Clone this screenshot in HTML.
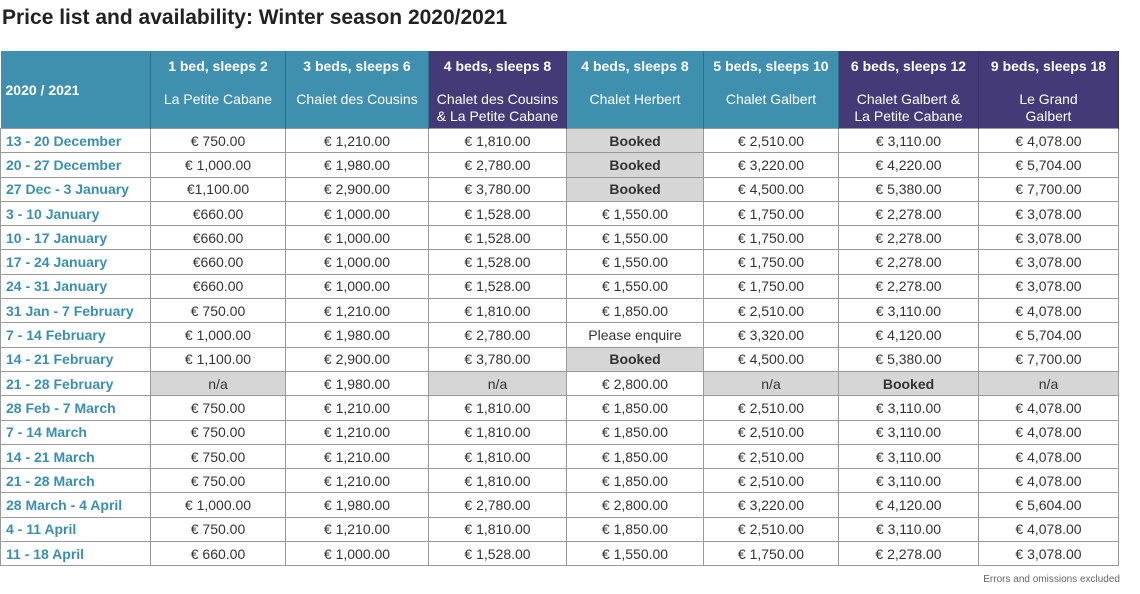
<!DOCTYPE html>
<html><head><meta charset="utf-8"><style>
body{margin:0;width:1140px;height:594px;background:#fff;font-family:"Liberation Sans",sans-serif;position:relative;overflow:hidden}
h1{position:absolute;left:2px;top:6px;margin:0;font-size:21px;font-weight:bold;color:#222}
table{position:absolute;left:0;top:51px;border-collapse:collapse;table-layout:fixed;width:1118px}
th{color:#fff;font-weight:normal;font-size:14px;border-right:1px solid #2f6f88;padding:0;vertical-align:top;height:77px}
th.t{background:#3f8faf}th.p{background:#453a78;border-right-color:#3a3068}
th b{display:block;font-weight:bold;font-size:14px;margin-top:7px;height:33px}
th span{display:block;line-height:17px}
th.first{text-align:left;padding-left:5px;vertical-align:middle;font-weight:bold;font-size:14px}
td{height:23.3px;border:1px solid #9a9a9a;padding:0;text-align:center;font-size:14px;color:#333}
td.d{text-align:left;padding-left:5px;color:#3a8fb0;font-weight:bold}
td.g{background:#d6d6d6}
td.bk{font-weight:bold;background:#d6d6d6}
.note{position:absolute;right:20px;top:574px;font-size:10px;color:#666}
</style></head><body>
<h1>Price list and availability: Winter season 2020/2021</h1>
<table>
<colgroup><col style="width:150px"><col style="width:135px"><col style="width:143px"><col style="width:138px"><col style="width:137px"><col style="width:135px"><col style="width:140px"><col style="width:140px"></colgroup>
<thead><tr>
<th class="t first">2020 / 2021</th>
<th class="t"><b>1 bed, sleeps 2</b><span>La Petite Cabane</span></th>
<th class="t"><b>3 beds, sleeps 6</b><span>Chalet des Cousins</span></th>
<th class="p"><b>4 beds, sleeps 8</b><span>Chalet des Cousins<br>&amp; La Petite Cabane</span></th>
<th class="t"><b>4 beds, sleeps 8</b><span>Chalet Herbert</span></th>
<th class="t"><b>5 beds, sleeps 10</b><span>Chalet Galbert</span></th>
<th class="p"><b>6 beds, sleeps 12</b><span>Chalet Galbert &amp;<br>La Petite Cabane</span></th>
<th class="p"><b>9 beds, sleeps 18</b><span>Le Grand<br>Galbert</span></th>
</tr></thead>
<tbody id="tb"></tbody></table>
<div class="note">Errors and omissions excluded</div>
<script>
const rows=[
["13 - 20 December","€ 750.00","€ 1,210.00","€ 1,810.00","Booked","€ 2,510.00","€ 3,110.00","€ 4,078.00"],
["20 - 27 December","€ 1,000.00","€ 1,980.00","€ 2,780.00","Booked","€ 3,220.00","€ 4,220.00","€ 5,704.00"],
["27 Dec - 3 January","€1,100.00","€ 2,900.00","€ 3,780.00","Booked","€ 4,500.00","€ 5,380.00","€ 7,700.00"],
["3 - 10 January","€660.00","€ 1,000.00","€ 1,528.00","€ 1,550.00","€ 1,750.00","€ 2,278.00","€ 3,078.00"],
["10 - 17 January","€660.00","€ 1,000.00","€ 1,528.00","€ 1,550.00","€ 1,750.00","€ 2,278.00","€ 3,078.00"],
["17 - 24 January","€660.00","€ 1,000.00","€ 1,528.00","€ 1,550.00","€ 1,750.00","€ 2,278.00","€ 3,078.00"],
["24 - 31 January","€660.00","€ 1,000.00","€ 1,528.00","€ 1,550.00","€ 1,750.00","€ 2,278.00","€ 3,078.00"],
["31 Jan - 7 February","€ 750.00","€ 1,210.00","€ 1,810.00","€ 1,850.00","€ 2,510.00","€ 3,110.00","€ 4,078.00"],
["7 - 14 February","€ 1,000.00","€ 1,980.00","€ 2,780.00","Please enquire","€ 3,320.00","€ 4,120.00","€ 5,704.00"],
["14 - 21 February","€ 1,100.00","€ 2,900.00","€ 3,780.00","Booked","€ 4,500.00","€ 5,380.00","€ 7,700.00"],
["21 - 28 February","n/a","€ 1,980.00","n/a","€ 2,800.00","n/a","Booked","n/a"],
["28 Feb - 7 March","€ 750.00","€ 1,210.00","€ 1,810.00","€ 1,850.00","€ 2,510.00","€ 3,110.00","€ 4,078.00"],
["7 - 14 March","€ 750.00","€ 1,210.00","€ 1,810.00","€ 1,850.00","€ 2,510.00","€ 3,110.00","€ 4,078.00"],
["14 - 21 March","€ 750.00","€ 1,210.00","€ 1,810.00","€ 1,850.00","€ 2,510.00","€ 3,110.00","€ 4,078.00"],
["21 - 28 March","€ 750.00","€ 1,210.00","€ 1,810.00","€ 1,850.00","€ 2,510.00","€ 3,110.00","€ 4,078.00"],
["28 March - 4 April","€ 1,000.00","€ 1,980.00","€ 2,780.00","€ 2,800.00","€ 3,220.00","€ 4,120.00","€ 5,604.00"],
["4 - 11 April","€ 750.00","€ 1,210.00","€ 1,810.00","€ 1,850.00","€ 2,510.00","€ 3,110.00","€ 4,078.00"],
["11 - 18 April","€ 660.00","€ 1,000.00","€ 1,528.00","€ 1,550.00","€ 1,750.00","€ 2,278.00","€ 3,078.00"]
];
const tb=document.getElementById('tb');
rows.forEach(r=>{
 const tr=document.createElement('tr');
 
 
 r.forEach((v,i)=>{
  const td=document.createElement('td');
  td.textContent=v;
  if(i===0)td.className='d';
  else if(v==='Booked')td.className='bk';
  else if(v==='n/a')td.className='g';
  
  
  tr.appendChild(td);
 });
 tb.appendChild(tr);
});
</script>
</body></html>
